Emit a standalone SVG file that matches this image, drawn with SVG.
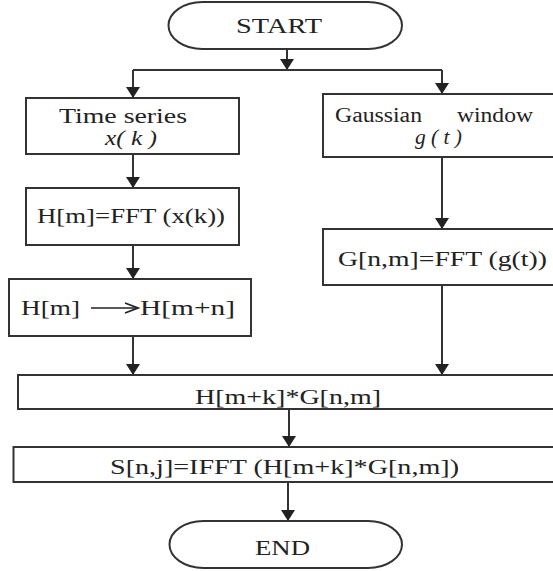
<svg xmlns="http://www.w3.org/2000/svg" width="553" height="571" viewBox="0 0 553 571">
<defs>
<style>
.box{fill:#fff;stroke:#333;stroke-width:2}
.t{font-family:"Liberation Serif","Times New Roman",serif;font-size:20px;fill:#222}
.i{font-style:italic}
.c{fill:none;stroke:#333;stroke-width:2}
</style>
<marker id="ah" markerUnits="userSpaceOnUse" markerWidth="12" markerHeight="14" refX="11" refY="7" orient="auto" viewBox="0 0 12 14">
<path d="M0,0 L11,7 L0,14 z" fill="#222"/>
</marker>
</defs>
<rect width="553" height="571" fill="#fff"/>
<g id="start">
<rect class="box" x="168.5" y="2" width="233.5" height="47" rx="34" ry="23.5"/>
<text class="t" x="236" y="33" textLength="86" lengthAdjust="spacingAndGlyphs">START</text>
</g>
<g id="timeseries">
<rect class="box" x="26" y="98" width="213" height="56"/>
<text class="t" x="59" y="123" textLength="128" lengthAdjust="spacingAndGlyphs">Time series</text>
<text class="t i" x="105" y="145" textLength="52" lengthAdjust="spacingAndGlyphs">x( k )</text>
</g>
<g id="gaussian">
<rect class="box" x="323" y="94" width="240" height="63"/>
<text class="t" y="122"><tspan x="335" textLength="87" lengthAdjust="spacingAndGlyphs">Gaussian</tspan> <tspan x="457" textLength="76" lengthAdjust="spacingAndGlyphs">window</tspan></text>
<text class="t i" x="415" y="144" textLength="47" lengthAdjust="spacingAndGlyphs">g ( t )</text>
</g>
<g id="fft-x">
<rect class="box" x="26" y="188" width="213" height="57"/>
<text class="t" x="37" y="223" textLength="188" lengthAdjust="spacingAndGlyphs">H[m]=FFT (x(k))</text>
</g>
<g id="shift">
<rect class="box" x="9" y="279" width="242" height="57"/>
<text class="t" x="21" y="315" textLength="59" lengthAdjust="spacingAndGlyphs">H[m]</text>
<path d="M91,308 H136" fill="none" stroke="#222" stroke-width="1.6"/>
<path d="M125,303 L138,308 L125,313" fill="none" stroke="#222" stroke-width="1.8"/>
<text class="t" x="140" y="315" textLength="95" lengthAdjust="spacingAndGlyphs">H[m+n]</text>
</g>
<g id="fft-g">
<rect class="box" x="323" y="229" width="240" height="56"/>
<text class="t" x="338" y="266" textLength="209" lengthAdjust="spacingAndGlyphs">G[n,m]=FFT (g(t))</text>
</g>
<g id="product">
<rect class="box" x="18" y="375" width="545" height="34"/>
<text class="t" x="195" y="404" textLength="186" lengthAdjust="spacingAndGlyphs">H[m+k]*G[n,m]</text>
</g>
<g id="ifft">
<rect class="box" x="13.5" y="447" width="550" height="35"/>
<text class="t" x="110" y="474" textLength="349" lengthAdjust="spacingAndGlyphs">S[n,j]=IFFT (H[m+k]*G[n,m])</text>
</g>
<g id="end">
<rect class="box" x="169.5" y="521" width="232.5" height="47" rx="34" ry="23.5"/>
<text class="t" x="255" y="555" textLength="55" lengthAdjust="spacingAndGlyphs">END</text>
</g>
<g id="connectors">
<path class="c" d="M287,49 V70" marker-end="url(#ah)"/>
<path class="c" d="M133,70 H442"/>
<path class="c" d="M133,70 V98" marker-end="url(#ah)"/>
<path class="c" d="M442,70 V94" marker-end="url(#ah)"/>
<path class="c" d="M133,154 V188" marker-end="url(#ah)"/>
<path class="c" d="M133,245 V279" marker-end="url(#ah)"/>
<path class="c" d="M133,336 V375" marker-end="url(#ah)"/>
<path class="c" d="M442,157 V229" marker-end="url(#ah)"/>
<path class="c" d="M442,285 V375" marker-end="url(#ah)"/>
<path class="c" d="M289,409 V447" marker-end="url(#ah)"/>
<path class="c" d="M288,482 V521" marker-end="url(#ah)"/>
</g>
</svg>
